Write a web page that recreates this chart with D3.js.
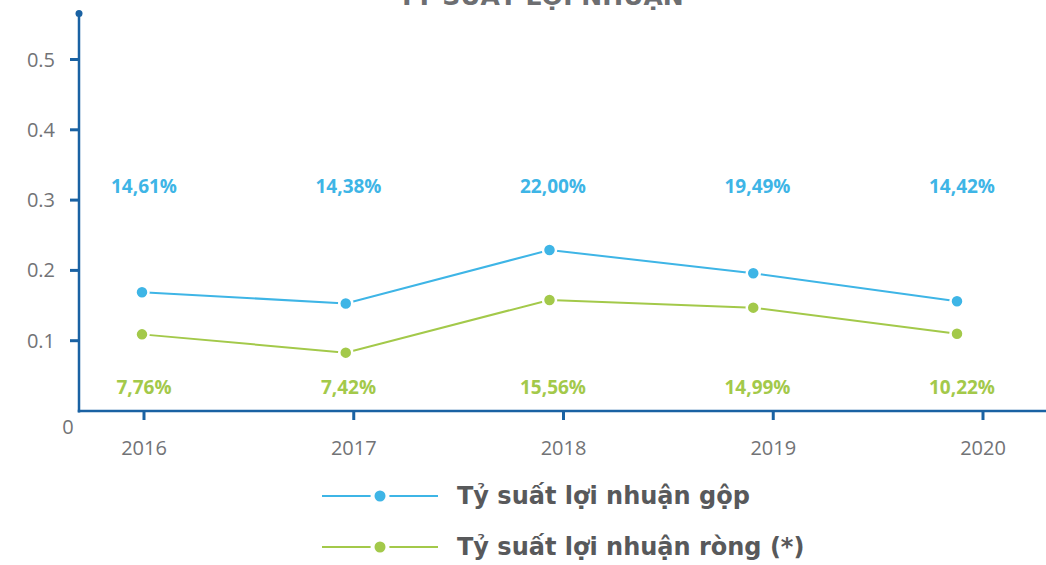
<!DOCTYPE html>
<html>
<head>
    <title>Tỷ suất lợi nhuận</title>
    <script src="https://cdnjs.cloudflare.com/ajax/libs/d3/7.8.5/d3.min.js"></script>
    <style>
        body {
            margin: 0;
            background-color: #ffffff;
            font-family: "Open Sans", "Noto Sans", Arial, sans-serif;
        }

        .tick-label {
            font-size: 20px;
            fill: #727376;
            font-weight: 400;
        }

        .value-label {
            font-size: 19px;
            font-weight: 700;
        }

        .legend-label {
            font-family: "DejaVu Sans", "Open Sans", sans-serif;
            font-size: 24px;
            font-weight: 700;
            fill: #58595b;
        }
    </style>
</head>

<body>
    <div id="chart"></div>

    <script>
        const years = ['2016', '2017', '2018', '2019', '2020'];
        const grossMargin = [0.169, 0.153, 0.229, 0.196, 0.156];
        const netMargin = [0.109, 0.083, 0.158, 0.147, 0.110];
        const grossLabels = ['14,61%', '14,38%', '22,00%', '19,49%', '14,42%'];
        const netLabels = ['7,76%', '7,42%', '15,56%', '14,99%', '10,22%'];
        const yTicks = [0.1, 0.2, 0.3, 0.4, 0.5];
        const seriesNames = ['Tỷ suất lợi nhuận gộp', 'Tỷ suất lợi nhuận ròng (*)'];

        const width = 1046, height = 565;
        const axisColor = '#1a62a3';
        const blue = '#3eb5e6';
        const green = '#a3c94a';

        const svg = d3.select('#chart').append('svg')
            .attr('width', width)
            .attr('height', height);

        const y = d3.scaleLinear().domain([0, 0.5]).range([411, 59.5]);
        // axis ticks, points and value labels sit on slightly different columns in the original
        const xTick = d3.scalePoint().domain(years).range([144, 983]);
        const xPoint = d3.scalePoint().domain(years).range([142, 957]);
        const xLabel = d3.scalePoint().domain(years).range([144, 962]);
        const axisX = 79;

        // title (cut off at the top)
        svg.append('text')
            .attr('x', 541)
            .attr('y', 5)
            .attr('text-anchor', 'middle')
            .attr('font-family', '"DejaVu Sans", sans-serif')
            .attr('font-size', 25)
            .attr('font-weight', 700)
            .attr('fill', '#6d6e71')
            .text('TỶ SUẤT LỢI NHUẬN');

        // y axis
        svg.append('line')
            .attr('x1', axisX).attr('x2', axisX)
            .attr('y1', y(0) + 1.5).attr('y2', y(0.5655))
            .attr('stroke', axisColor)
            .attr('stroke-width', 2.5);

        svg.append('circle')
            .attr('cx', axisX)
            .attr('cy', y(0.5655))
            .attr('r', 3.5)
            .attr('fill', axisColor);

        svg.selectAll('.ytick')
            .data(yTicks)
            .enter().append('line')
            .attr('class', 'ytick')
            .attr('x1', 70).attr('x2', axisX)
            .attr('y1', d => y(d)).attr('y2', d => y(d))
            .attr('stroke', axisColor)
            .attr('stroke-width', 3);

        svg.selectAll('.ylabel')
            .data(yTicks)
            .enter().append('text')
            .attr('class', 'tick-label')
            .attr('x', 55)
            .attr('y', d => y(d))
            .attr('dy', '0.35em')
            .attr('text-anchor', 'end')
            .text(d => d.toFixed(1));

        svg.append('text')
            .attr('class', 'tick-label')
            .attr('x', 68)
            .attr('y', y(0) + 16)
            .attr('dy', '0.35em')
            .attr('text-anchor', 'middle')
            .text('0');

        // x axis
        svg.append('line')
            .attr('x1', axisX - 1.25).attr('x2', width)
            .attr('y1', y(0)).attr('y2', y(0))
            .attr('stroke', axisColor)
            .attr('stroke-width', 2.5);

        svg.selectAll('.xtick')
            .data(years)
            .enter().append('line')
            .attr('class', 'xtick')
            .attr('x1', d => xTick(d)).attr('x2', d => xTick(d))
            .attr('y1', y(0)).attr('y2', y(0) + 9)
            .attr('stroke', axisColor)
            .attr('stroke-width', 3);

        svg.selectAll('.xlabel')
            .data(years)
            .enter().append('text')
            .attr('class', 'tick-label')
            .attr('x', d => xTick(d))
            .attr('y', 448)
            .attr('dy', '0.35em')
            .attr('text-anchor', 'middle')
            .text(d => d);

        function drawSeries(values, labels, color, labelY) {
            const data = years.map((yr, i) => ({ year: yr, value: values[i], label: labels[i] }));

            const line = d3.line()
                .x(d => xPoint(d.year))
                .y(d => y(d.value));

            svg.append('path')
                .datum(data)
                .attr('d', line)
                .attr('fill', 'none')
                .attr('stroke', color)
                .attr('stroke-width', 2);

            svg.append('g').selectAll('circle')
                .data(data)
                .enter().append('circle')
                .attr('cx', d => xPoint(d.year))
                .attr('cy', d => y(d.value))
                .attr('r', 6.5)
                .attr('fill', color)
                .attr('stroke', '#ffffff')
                .attr('stroke-width', 2.5);

            svg.append('g').selectAll('text')
                .data(data)
                .enter().append('text')
                .attr('class', 'value-label')
                .attr('x', d => xLabel(d.year))
                .attr('y', labelY)
                .attr('dy', '0.35em')
                .attr('text-anchor', 'middle')
                .attr('fill', color)
                .text(d => d.label);
        }

        drawSeries(grossMargin, grossLabels, blue, 186);
        drawSeries(netMargin, netLabels, green, 387);

        // legend
        const legend = svg.append('g');
        const legendRows = [
            { name: seriesNames[0], color: blue, y: 496 },
            { name: seriesNames[1], color: green, y: 547 }
        ];

        legendRows.forEach(row => {
            legend.append('line')
                .attr('x1', 322).attr('x2', 438)
                .attr('y1', row.y).attr('y2', row.y)
                .attr('stroke', row.color)
                .attr('stroke-width', 2);

            legend.append('circle')
                .attr('cx', 380)
                .attr('cy', row.y)
                .attr('r', 9.5)
                .attr('fill', '#ffffff');

            legend.append('circle')
                .attr('cx', 380)
                .attr('cy', row.y)
                .attr('r', 5.5)
                .attr('fill', row.color);

            legend.append('text')
                .attr('class', 'legend-label')
                .attr('x', 457)
                .attr('y', row.y)
                .attr('dy', '0.35em')
                .text(row.name);
        });
    </script>
</body>
</html>
